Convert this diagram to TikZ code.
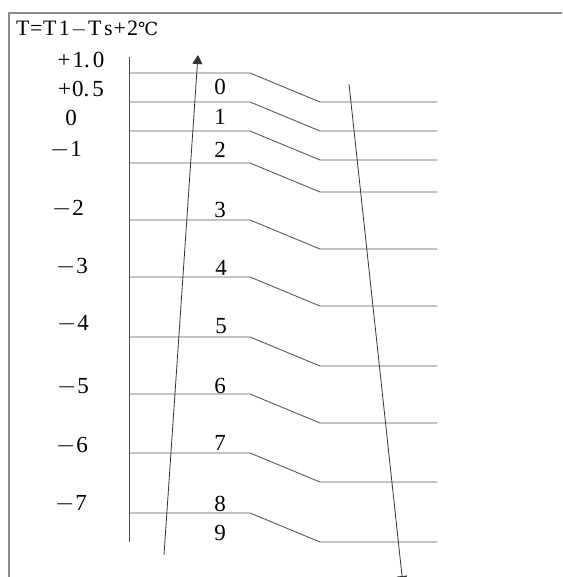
\documentclass[tikz,border=0pt]{standalone}
\usepackage{fontspec}
\setmainfont{Liberation Serif}
\newfontfamily\degfont{DejaVu Serif}
\usetikzlibrary{arrows.meta}
\begin{document}
\begin{tikzpicture}[x=1pt,y=-1pt,
  lbl/.style={anchor=base,inner sep=0pt,font=\fontsize{23}{27}\selectfont},
  frameline/.style={draw=black!45,line width=1.2pt},
  level/.style={draw=black!65,line width=0.9pt},
  axisline/.style={draw=black!70,line width=0.9pt},
  flow/.style={draw=black!80,line width=0.8pt,-{Triangle[width=10pt,length=9pt]}}]
\useasboundingbox (0,0) rectangle (562,577);
\clip (0,0) rectangle (562,577);
% frame
\draw[frameline] (9,577) -- (9,13) -- (563,13);
% title
\node[lbl,anchor=base west,font=\fontsize{22}{26}\selectfont] (title) at (16,36)
  {T\kern0.5pt=\kern0.5pt T\kern2.5pt1\kern1pt$-$\kern1pt T\kern2.5pt s\kern1pt+\kern1pt2{\degfont\fontsize{18}{22}\selectfont ℃}};
% scale labels
\node[lbl] (s10) at (81,68) {+\kern2pt1.\kern3pt0};
\node[lbl] (s05) at (81,97) {+\kern1pt0.\kern3pt5};
\node[lbl] (s0) at (71,126) {0};
\node[lbl] (s1) at (66,157) {$-$\kern1pt1};
\node[lbl] (s2) at (68,215) {$-$\kern1pt2};
\node[lbl] (s3) at (72,273) {$-$\kern1pt3};
\node[lbl] (s4) at (73,330) {$-$\kern1pt4};
\node[lbl] (s5) at (73,393) {$-$\kern1pt5};
\node[lbl] (s6) at (72,452) {$-$\kern1pt6};
\node[lbl] (s7) at (71,510) {$-$\kern1pt7};
% axis
\coordinate (axt) at (129,57);
\coordinate (axb) at (129,542);
\draw[axisline] (axt) -- (axb);
% level lines
\foreach \y in {73,102,131,163,220,277,337,394,453,513}{
  \draw[level] (130,\y) -- (250,\y) -- (320,\y+29) -- (437,\y+29);
}
% step numbers
\node[lbl] (n0) at (220,95) {0};
\node[lbl] (n1) at (220,125) {1};
\node[lbl] (n2) at (220,158) {2};
\node[lbl] (n3) at (220,217) {3};
\node[lbl] (n4) at (221,275) {4};
\node[lbl] (n5) at (221,333) {5};
\node[lbl] (n6) at (220,393) {6};
\node[lbl] (n7) at (220,450) {7};
\node[lbl] (n8) at (220,511) {8};
\node[lbl] (n9) at (220,540) {9};
% arrows
\coordinate (ua) at (164,555);
\coordinate (ub) at (198,55);
\draw[flow] (ua) -- (ub);
\coordinate (da) at (349,84);
\coordinate (db) at (403,585);
\draw[flow] (da) -- (db);
\end{tikzpicture}
\end{document}
